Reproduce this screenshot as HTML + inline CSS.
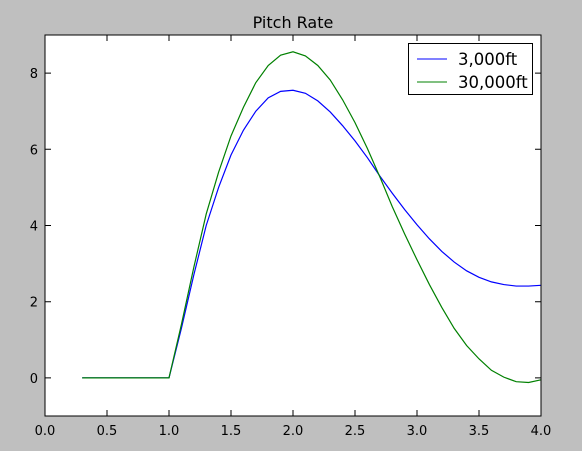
<!DOCTYPE html>
<html><head><meta charset="utf-8"><style>
html,body{margin:0;padding:0;background:#bfbfbf;}
svg{display:block;font-family:"DejaVu Sans","Liberation Sans",sans-serif;}
</style></head><body>
<svg id="chart" width="582" height="451" viewBox="0 0 582 451" xmlns="http://www.w3.org/2000/svg">
<rect x="0" y="0" width="582" height="451" fill="#bfbfbf"/>
<text x="293" y="28" text-anchor="middle" font-size="16">Pitch Rate</text>
<rect x="45" y="35" width="496" height="381" fill="#ffffff"/>
<g id="ticks"></g>
<g id="series"></g>
<rect x="45" y="35" width="496" height="381" fill="none" stroke="#000" stroke-width="1"/>
<g>
<rect x="408.5" y="43.5" width="124" height="51" fill="#fff" stroke="#000"/>
<line x1="417" y1="59" x2="447" y2="59" stroke="#0000ff"/>
<text x="458" y="65" font-size="16.5">3,000ft</text>
<line x1="417" y1="82" x2="447" y2="82" stroke="#008000"/>
<text x="458" y="88" font-size="16.5">30,000ft</text>
</g>
</svg>
<script>
const xTicks=[0.0,0.5,1.0,1.5,2.0,2.5,3.0,3.5,4.0];
const xTickLabels=["0.0","0.5","1.0","1.5","2.0","2.5","3.0","3.5","4.0"];
const yTicks=[0,2,4,6,8];
const yTickLabels=["0","2","4","6","8"];
const xs=[0.3,0.4,0.5,0.6,0.7,0.8,0.9,1.0,1.1,1.2,1.3,1.4,1.5,1.6,1.7,1.8,1.9,2.0,2.1,2.2,2.3,2.4,2.5,2.6,2.7,2.8,2.9,3.0,3.1,3.2,3.3,3.4,3.5,3.6,3.7,3.8,3.9,4.0];
const blue=[0,0,0,0,0,0,0,0,1.3,2.7,4.0,5.0,5.85,6.5,7.0,7.35,7.52,7.55,7.47,7.27,6.98,6.62,6.22,5.78,5.3,4.85,4.42,4.02,3.65,3.32,3.04,2.81,2.64,2.52,2.45,2.41,2.41,2.43];
const green=[0,0,0,0,0,0,0,0,1.4,2.9,4.3,5.4,6.35,7.1,7.75,8.2,8.47,8.56,8.45,8.2,7.82,7.3,6.7,6.02,5.28,4.5,3.78,3.1,2.45,1.85,1.3,0.85,0.5,0.2,0.02,-0.1,-0.12,-0.05];
const X=v=>45+(v-0)/4*496;
const Y=v=>416-(v+1)/10*381;
const NS="http://www.w3.org/2000/svg";
const tg=document.getElementById('ticks');
xTicks.forEach((t,i)=>{
  const x=X(t);
  const l=document.createElementNS(NS,'path');
  l.setAttribute('d',`M${x},416v-6M${x},35v6`);
  l.setAttribute('stroke','#000');
  
  
  tg.appendChild(l);
  const tx=document.createElementNS(NS,'text');
  tx.setAttribute('x',x);tx.setAttribute('y',435);
  tx.setAttribute('text-anchor','middle');tx.setAttribute('font-size','13');
  tx.textContent=xTickLabels[i];
  
  
  tg.appendChild(tx);
});
yTicks.forEach((t,i)=>{
  const y=Y(t);
  const l=document.createElementNS(NS,'path');
  l.setAttribute('d',`M45,${y}h6M541,${y}h-6`);
  l.setAttribute('stroke','#000');
  
  
  tg.appendChild(l);
  const tx=document.createElementNS(NS,'text');
  tx.setAttribute('x',38);tx.setAttribute('y',y+5);
  tx.setAttribute('text-anchor','end');tx.setAttribute('font-size','13');
  tx.textContent=yTickLabels[i];
  
  
  tg.appendChild(tx);
});
const sg=document.getElementById('series');
[[blue,'#0000ff','line-3000ft'],[green,'#008000','line-30000ft']].forEach(([d,c,n])=>{
  const p=document.createElementNS(NS,'polyline');
  p.setAttribute('points',xs.map((x,i)=>X(x)+','+Y(d[i])).join(' '));
  p.setAttribute('fill','none');p.setAttribute('stroke',c);p.setAttribute('stroke-width','1.2');
  
  
  sg.appendChild(p);
});
</script>
</body></html>
